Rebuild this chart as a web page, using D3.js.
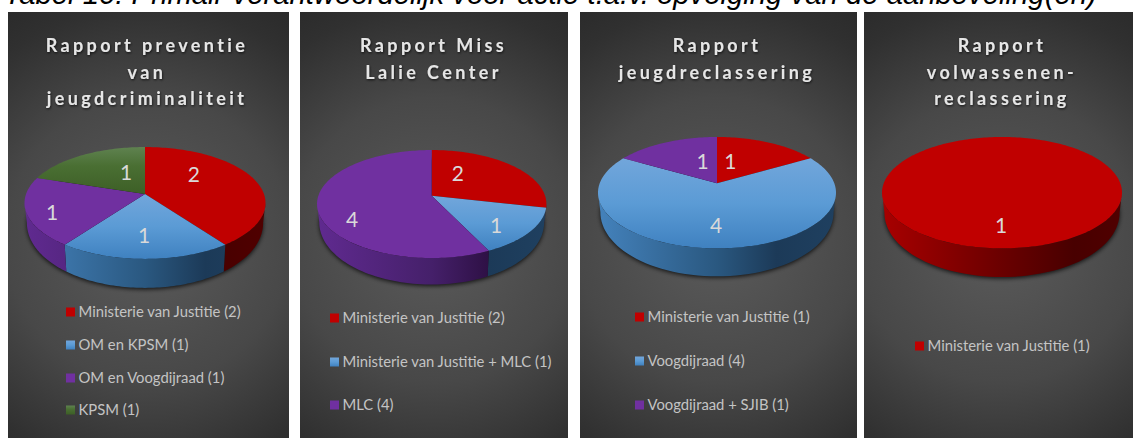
<!DOCTYPE html>
<html><head><meta charset="utf-8">
<script src="https://cdnjs.cloudflare.com/ajax/libs/d3/7.8.5/d3.min.js"></script>
<style>html,body{margin:0;padding:0;background:#fff;overflow:hidden}svg{display:block}text{font-family:Lato,sans-serif}</style>
</head><body><svg id="c" width="1133" height="438"></svg>
<script>
// ---- data ----
const caption = "Tabel 10: Primair verantwoordelijk voor actie t.a.v. opvolging van de aanbeveling(en)";
const titles1 = ["Rapport preventie","van","jeugdcriminaliteit"];
const titles2 = ["Rapport Miss","Lalie Center"];
const titles3 = ["Rapport","jeugdreclassering"];
const titles4 = ["Rapport","volwassenen-","reclassering"];
const cats1 = ["Ministerie van Justitie","OM en KPSM","OM en Voogdijraad","KPSM"];
const cats2 = ["Ministerie van Justitie","Ministerie van Justitie + MLC","MLC"];
const cats3 = ["Ministerie van Justitie","Voogdijraad","Voogdijraad + SJIB"];
const cats4 = ["Ministerie van Justitie"];
const vals1 = [2,1,1,1];
const vals2 = [2,1,4];
const vals3 = [1,4,1];
const vals4 = [1];

// ---- layout ----
const panels = [
 {x0:8,x1:289,tx:147,titles:titles1,cats:cats1,vals:vals1,colors:["red","blue","purple","green"],
  cx:145,cy:194,rx:120.5,k:.16,ry:54.5,depth:29,
  nudge:[[-17,-10],[-1,5],[-23,8],[20,3]],lx:66,ly:[312,345,378,410]},
 {x0:300,x1:568,tx:433.5,titles:titles2,cats:cats2,vals:vals2,colors:["red","blue","purple"],
  cx:431.7,cy:195.7,rx:114.7,k:.154,ry:52.7,depth:26.5,
  nudge:[[-24,-4],[8,9],[-12,17]],lx:330,ly:[318,362,405]},
 {x0:580,x1:857,tx:717,titles:titles3,cats:cats3,vals:vals3,colors:["red","blue","purple"],
  cx:717,cy:183.3,rx:119,k:.168,ry:54.1,depth:28,
  nudge:[[-19,4],[-1,6],[18,4]],lx:635,ly:[317,361,405]},
 {x0:864,x1:1133,tx:1002,titles:titles4,cats:cats4,vals:vals4,colors:["red"],
  cx:1002,cy:183.3,rx:120,k:.168,ry:54.1,depth:28.7,
  nudge:[[-1,6]],lx:915,ly:[346]}
];
const titleY = [52,79,105], panelTop = 12, panelBottom = 438;
const ramps = {
 red:[[0,"#a80000"],[.5,"#6a0000"],[.8,"#480000"],[1,"#500000"]],
 blue:[[0,"#4482bc"],[.5,"#2a5880"],[.75,"#1c3a58"],[1,"#1f4060"]],
 purple:[[0,"#602a90"],[.5,"#45206a"],[.75,"#2e1045"],[1,"#341650"]],
 green:[[0,"#3d5f26"],[1,"#223512"]]
};
const faces = {red:"#c00000",purple:"#7030a0",blue:"url(#faceBlue)",green:"url(#faceGreen)"};

const svg = d3.select("#c");
const defs = svg.append("defs");
function grad(el,id,stops,attrs){
  const g = defs.append(el).attr("id",id);
  Object.entries(attrs).forEach(([a,v])=>g.attr(a,v));
  stops.forEach(s=>g.append("stop").attr("offset",s[0]).attr("stop-color",s[1]));
}
grad("linearGradient","faceBlue",[[0,"#72a6db"],[.5,"#5b9bd5"],[1,"#3f81c0"]],{x1:0,y1:0,x2:0,y2:1});
grad("linearGradient","faceGreen",[[0,"#5f8250"],[.4,"#4a6f33"],[1,"#3d5f26"]],{x1:0,y1:0,x2:0,y2:1});
const blur = defs.append("filter").attr("id","soft").attr("x","-10%").attr("y","-20%").attr("width","120%").attr("height","140%");
blur.append("feGaussianBlur").attr("stdDeviation",2);
const ts = defs.append("filter").attr("id","tshadow").attr("x","-5%").attr("y","-20%").attr("width","110%").attr("height","150%");
ts.append("feDropShadow").attr("dx",.6).attr("dy",1.2).attr("stdDeviation",1).attr("flood-color","#000").attr("flood-opacity",.7);

svg.append("text").attr("x",4).attr("y",4).attr("font-size",29.3).attr("font-style","italic")
  .style("font-family","'Liberation Sans',Arial,sans-serif").attr("fill","#000").text(caption);

const line = d3.line().curve(d3.curveLinearClosed);
const pieGen = d3.pie().sort(null).value(d=>d);

panels.forEach((p,pi)=>{
  const g = svg.append("g");
  grad("radialGradient",`bg${pi}`,[[0,"#5b5b5b"],[.5,"#484848"],[.82,"#303030"],[1,"#282828"]],
    {gradientUnits:"userSpaceOnUse",cx:(p.x0+p.x1)/2,cy:240,r:285});
  g.append("rect").attr("x",p.x0).attr("y",panelTop).attr("width",p.x1-p.x0).attr("height",panelBottom-panelTop).attr("fill",`url(#bg${pi})`);

  const RX = p.rx*Math.sqrt(1-p.k*p.k);
  const proj = (t,r=1)=>{
    const u=r*Math.sin(t), v=-r*Math.cos(t), w=1-p.k*v;
    return [p.cx+RX*u/w, p.cy+p.ry*v/w, v];
  };
  const down = ([x,y,v])=>[p.cx+(x-p.cx)*.98, y+p.depth*(.63+.37*v)];
  const samples = (a,b,n)=>d3.range(n+1).map(i=>a+(b-a)*i/n);

  const arcs = pieGen(p.vals);
  // shadow under the disc
  g.append("path").attr("d",line(samples(0,2*Math.PI,120).map(t=>{const q=down(proj(t));return [q[0],q[1]+1.5];})))
    .attr("fill","#000").attr("opacity",.75).attr("filter","url(#soft)");

  // side walls, visible front half only
  const tL = Math.acos(-p.k), tR = 2*Math.PI-tL;
  Object.keys(ramps).forEach(c=>{
    grad("linearGradient",`wall${pi}${c}`,ramps[c],{gradientUnits:"userSpaceOnUse",x1:p.cx-p.rx,x2:p.cx+p.rx,y1:0,y2:0});
  });
  arcs.forEach((a,i)=>{
    const s=Math.max(a.startAngle,tL), e=Math.min(a.endAngle,tR);
    if(e<=s) return;
    const topEdge = samples(s,e,60).map(t=>proj(t));
    const pts = topEdge.map(q=>[q[0],q[1]]).concat(topEdge.map(down).reverse());
    g.append("path").attr("d",line(pts)).attr("fill",`url(#wall${pi}${p.colors[i]})`);
  });

  // top faces
  arcs.forEach((a,i)=>{
    const n=Math.max(8,Math.round((a.endAngle-a.startAngle)*40));
    const rim=samples(a.startAngle,a.endAngle,n).map(t=>proj(t).slice(0,2));
    const pts = p.vals.length>1 ? [[p.cx,p.cy]].concat(rim) : rim;
    g.append("path").attr("d",line(pts)).attr("fill",faces[p.colors[i]]);
  });

  // value labels
  arcs.forEach((a,i)=>{
    const q=proj((a.startAngle+a.endAngle)/2,.6);
    g.append("text").attr("x",q[0]+p.nudge[i][0]).attr("y",q[1]+p.nudge[i][1]).attr("dy",".36em")
      .attr("text-anchor","middle").attr("font-size",21).attr("fill","#d9d9d9").text(p.vals[i]);
  });

  // panel title
  p.titles.forEach((t,i)=>{
    g.append("text").attr("x",p.tx).attr("y",titleY[i]).attr("text-anchor","middle")
      .attr("font-size",18).attr("font-weight",700).attr("letter-spacing",3.4)
      .attr("fill","#e6e6e6").attr("filter","url(#tshadow)").text(t);
  });

  // legend
  p.cats.forEach((c,i)=>{
    g.append("rect").attr("x",p.lx).attr("y",p.ly[i]-4.5).attr("width",9).attr("height",9).attr("fill",faces[p.colors[i]]);
    g.append("text").attr("x",p.lx+12.5).attr("y",p.ly[i]+5).attr("font-size",14.8).attr("fill","#c4c4c4").text(`${c} (${p.vals[i]})`);
  });
});
</script></body></html>
